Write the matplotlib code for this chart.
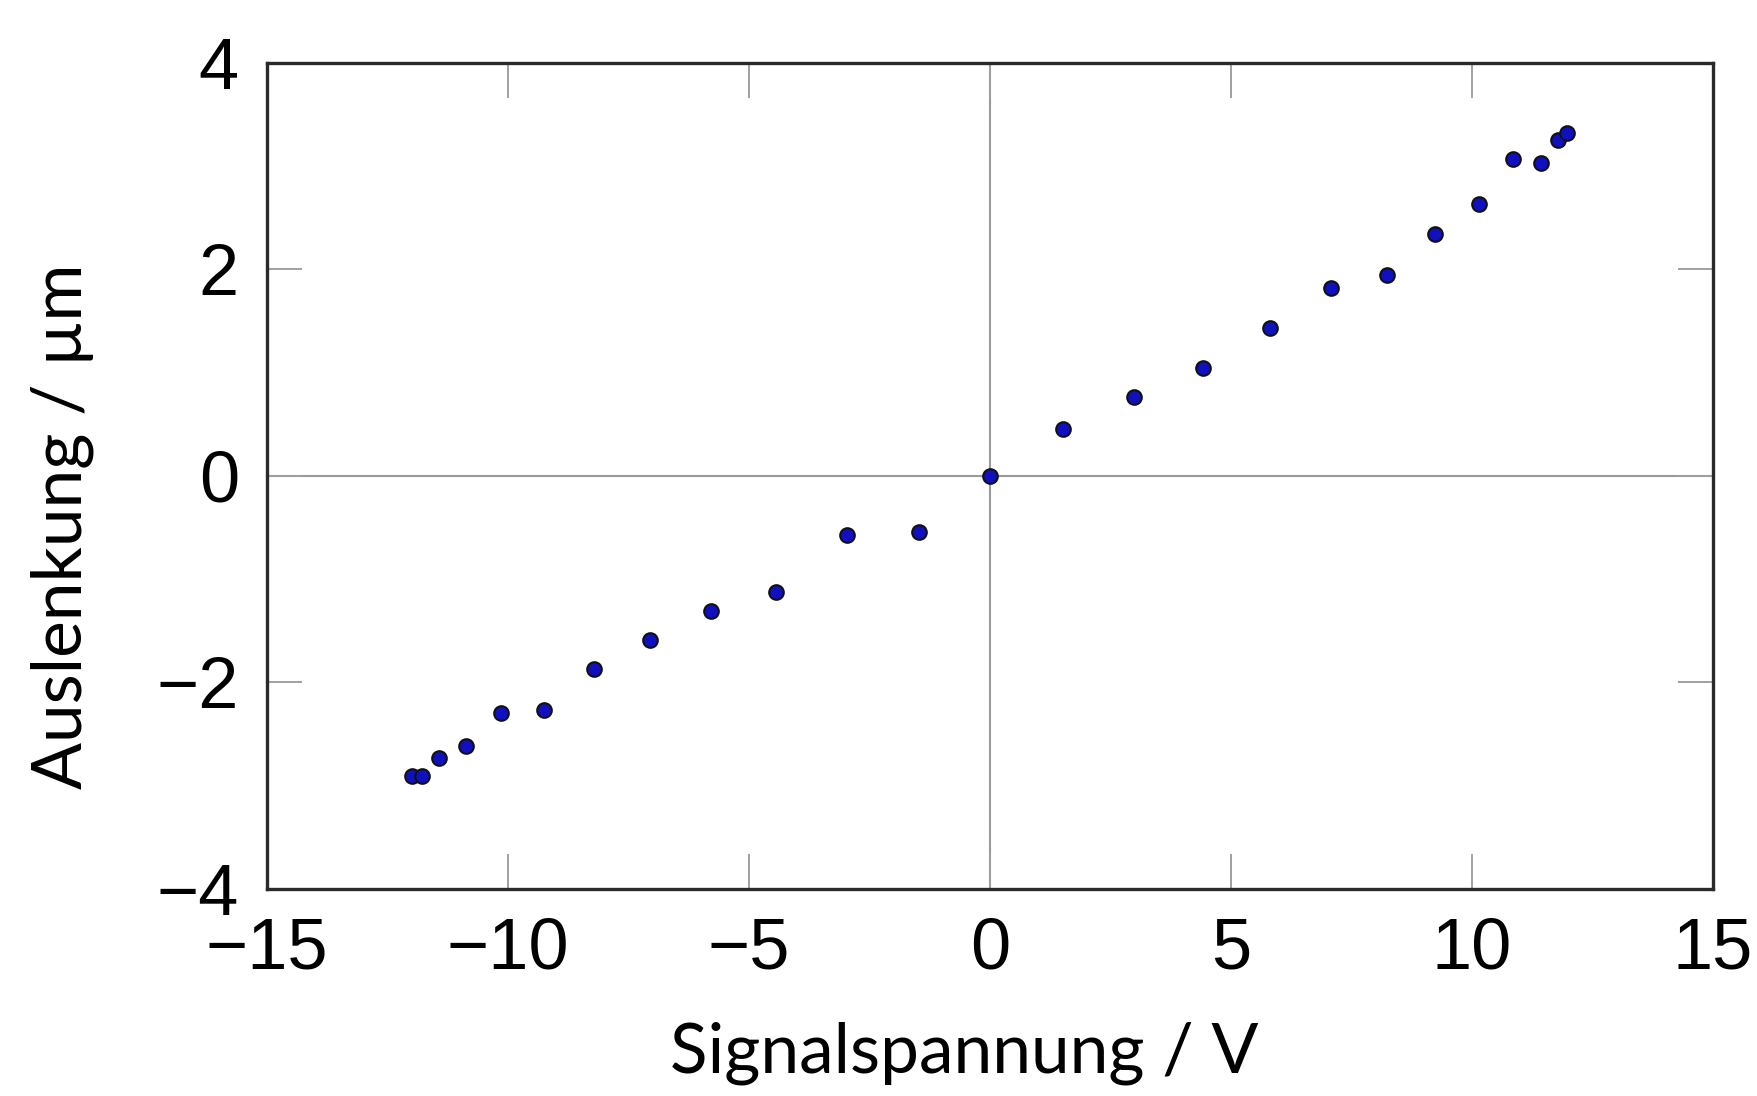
import matplotlib
matplotlib.use("Agg")
import matplotlib.pyplot as plt

# Data
signal_voltage = [-11.98, -11.78, -11.42, -10.86, -10.14, -9.25, -8.21, -7.05, -5.78,
                  -4.43, -2.96, -1.48, 0.0, 1.52, 2.99, 4.43, 5.80, 7.07, 8.23,
                  9.24, 10.15, 10.86, 11.43, 11.79, 11.98]
deflection = [-2.91, -2.91, -2.73, -2.62, -2.30, -2.27, -1.87, -1.59, -1.31,
              -1.12, -0.57, -0.54, 0.0, 0.45, 0.76, 1.04, 1.43, 1.82, 1.94,
              2.34, 2.63, 3.07, 3.03, 3.25, 3.32]
x_ticks = [-15, -10, -5, 0, 5, 10, 15]
y_ticks = [-4, -2, 0, 2, 4]

fig = plt.figure(figsize=(17.57, 10.96), dpi=100)
ax = fig.add_axes([0.1518, 0.1889, 0.975 - 0.1518, 0.9428 - 0.1889])

ax.axhline(0, color="#9a9a9a", lw=1.5, zorder=1)
ax.axvline(0, color="#9a9a9a", lw=1.5, zorder=1)

ax.plot(signal_voltage, deflection, linestyle="none", marker="o", markersize=10.5,
        markerfacecolor="#1010c0", markeredgecolor="#111111", markeredgewidth=1.5, zorder=3)

ax.set_xlim(-15, 15)
ax.set_ylim(-4, 4)
ax.set_xticks(x_ticks)
ax.set_yticks(y_ticks)
ax.set_xticklabels([("\u2212" + str(abs(v))) if v < 0 else str(v) for v in x_ticks],
                   fontfamily="Liberation Sans", fontsize=52)
ax.set_yticklabels([("\u2212" + str(abs(v))) if v < 0 else str(v) for v in y_ticks],
                   fontfamily="Liberation Sans", fontsize=52)
ax.tick_params(axis="both", which="both", direction="in", length=25, width=1.4,
               color="#a0a0a0", top=True, right=True)
ax.tick_params(axis="x", pad=20)
ax.tick_params(axis="y", pad=20)

for s in ax.spines.values():
    s.set_linewidth(2.4)
    s.set_color("#2a2a2a")

fig.text(0.549, 1 - 1053 / 1096, "Signalspannung / V", fontfamily="Lato", fontsize=50,
         ha="center", va="center")
fig.text(62 / 1757, 1 - 526 / 1096, "Auslenkung / µm", fontfamily="Lato", fontsize=50,
         ha="center", va="center", rotation=90)

fig.savefig("out.png", dpi=100)
